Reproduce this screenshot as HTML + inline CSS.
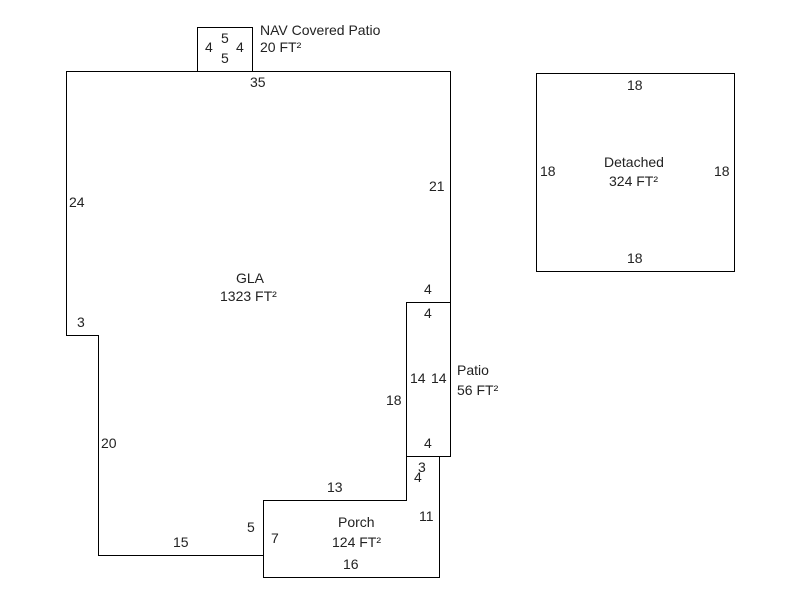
<!DOCTYPE html>
<html><head><style>body{margin:0;background:#fff}svg text{font-family:"Liberation Sans",sans-serif;font-size:14px;fill:#222}</style></head>
<body>
<svg width="800" height="600" xmlns="http://www.w3.org/2000/svg">
<g fill="none" stroke="#000" stroke-width="1">
<polygon points="66.5,71.5 450.5,71.5 450.5,302.5 406.5,302.5 406.5,500.5 263.5,500.5 263.5,555.5 98.5,555.5 98.5,335.5 66.5,335.5"/>
<rect x="197.5" y="27.5" width="55" height="44"/>
<rect x="406.5" y="302.5" width="44" height="154"/>
<polyline points="263.5,500.5 263.5,577.5 439.5,577.5 439.5,456.5"/>
<rect x="536.5" y="73.5" width="198" height="198"/>
</g>
<text x="260" y="35">NAV Covered Patio</text>
<text x="260" y="52">20 FT²</text>
<text x="221" y="43">5</text><text x="221" y="63">5</text>
<text x="205" y="52">4</text><text x="236" y="52">4</text>
<text x="250" y="87">35</text>
<text x="69" y="207">24</text>
<text x="429" y="191">21</text>
<text x="77" y="327">3</text>
<text x="236" y="283">GLA</text>
<text x="220" y="301">1323 FT²</text>
<text x="424" y="294">4</text>
<text x="424" y="318">4</text>
<text x="410" y="383">14</text><text x="431" y="383">14</text>
<text x="386" y="405">18</text>
<text x="424" y="448">4</text>
<text x="457" y="375">Patio</text>
<text x="457" y="395">56 FT²</text>
<text x="418" y="472">3</text>
<text x="414" y="482">4</text>
<text x="101" y="448">20</text>
<text x="327" y="492">13</text>
<text x="419" y="521">11</text>
<text x="338" y="527">Porch</text>
<text x="332" y="547">124 FT²</text>
<text x="247" y="532">5</text>
<text x="271" y="543">7</text>
<text x="173" y="547">15</text>
<text x="343" y="569">16</text>
<text x="627" y="90">18</text>
<text x="540" y="176">18</text>
<text x="714" y="176">18</text>
<text x="627" y="263">18</text>
<text x="604" y="167">Detached</text>
<text x="609" y="186">324 FT²</text>
</svg>
</body></html>
